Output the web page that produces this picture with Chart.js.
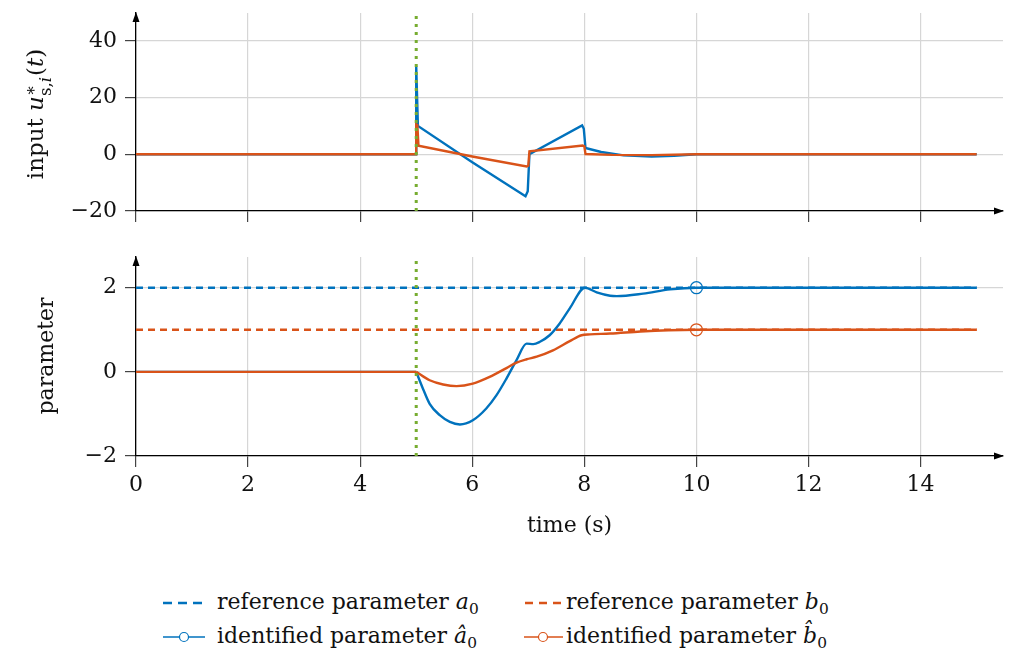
<!DOCTYPE html>
<html>
<head>
<meta charset="utf-8">
<script src="https://cdn.jsdelivr.net/npm/chart.js@4.4.1/dist/chart.umd.min.js"></script>
<style>
  body { margin: 0; background: #fff; width: 1011px; height: 658px; overflow: hidden; position: relative;
         font-family: 'DejaVu Serif', serif; color: #111; }
  canvas { position: absolute; left: 0; }
  #topChart { top: 0; }
  #botChart { top: 240px; }
  .ytitle { position: absolute; white-space: nowrap; font-size: 22px;
            transform: translate(-50%, -50%) rotate(-90deg); }
  .ss { display: inline-block; vertical-align: -0.5em; line-height: 0.95; font-size: 0.72em; text-align: left; margin-right: 1px; }
  .lg { position: absolute; font-size: 22px; white-space: nowrap; line-height: 26px; }
  .lg sub { font-size: 0.7em; }
  .sw { position: absolute; }
</style>
</head>
<body>
<canvas id="topChart" width="1011" height="232"></canvas>
<canvas id="botChart" width="1011" height="300"></canvas>

<div class="ytitle" style="left:38px;top:114px;font-size:23px">input <i>u</i><span class="ss">∗<br>s,<i>i</i></span>(<i>t</i>)</div>
<div class="ytitle" style="left:45px;top:356px">parameter</div>

<!-- legend -->
<svg class="sw" style="left:160px;top:592px" width="48" height="22"><line x1="3" y1="11" x2="42" y2="11" stroke="#0072BD" stroke-width="2.5" stroke-dasharray="9,6"/></svg>
<div class="lg" style="left:217px;top:589px">reference parameter <i>a</i><sub>0</sub></div>
<svg class="sw" style="left:520px;top:592px" width="48" height="22"><line x1="5" y1="11" x2="41" y2="11" stroke="#D95319" stroke-width="2.5" stroke-dasharray="8,6"/></svg>
<div class="lg" style="left:566px;top:589px">reference parameter <i>b</i><sub>0</sub></div>
<svg class="sw" style="left:160px;top:626px" width="48" height="22"><line x1="3" y1="11" x2="45" y2="11" stroke="#0072BD" stroke-width="1.4"/><circle cx="24" cy="11" r="4.5" fill="#fff" stroke="#0072BD" stroke-width="1.2"/></svg>
<div class="lg" style="left:217px;top:623px">identified parameter <i>â</i><sub>0</sub></div>
<svg class="sw" style="left:518px;top:626px" width="48" height="22"><line x1="6" y1="11" x2="45" y2="11" stroke="#D95319" stroke-width="1.4"/><circle cx="25" cy="11" r="4.5" fill="#fff" stroke="#D95319" stroke-width="1.2"/></svg>
<div class="lg" style="left:566px;top:623px">identified parameter <i>b̂</i><sub>0</sub></div>

<script>
// colours
const BLUE = '#0072BD', ORANGE = '#D95319', GREEN = '#77AC30';

// axis limits
const X_MAX = 15.47;
const TOP_Y_MIN = -20, TOP_Y_MAX = 49.8;
const BOT_Y_MIN = -2, BOT_Y_MAX = 2.73;
const EVENT_T = 5;   // dotted marker, identification starts
const MARK_T = 10;   // circle markers

// top plot: input, blue trace
const inA_t = [0, 5, 5, 5.03, 6, 6.95, 6.99, 7.02, 7.96, 7.99, 8.02, 8.3, 8.7, 9.2, 9.6, 10, 15];
const inA_v = [0, 0, 31, 10, -2.8, -14.8, -13, 0, 10.2, 9, 2.2, 0.8, -0.4, -0.8, -0.5, 0, 0];
// top plot: input, orange trace
const inB_t = [0, 5, 5, 5.02, 5.04, 6, 6.97, 7.0, 7.02, 7.97, 8.0, 8.02, 8.5, 9.2, 10, 15];
const inB_v = [0, 0, 10.5, 10.3, 3, -0.8, -4.3, -4, 1, 3.1, 2.8, 0.1, -0.2, -0.3, 0, 0];

// bottom plot: reference parameters
const ref_t = [0, 15];
const refA_v = [2, 2];
const refB_v = [1, 1];
// bottom plot: identified a0
const idA_t = [0, 5, 5.12, 5.24, 5.42, 5.6, 5.78, 6.01, 6.25, 6.43, 6.61, 6.79, 6.97, 7.09, 7.2, 7.38, 7.56, 7.74, 8.01,
               8.22, 8.46, 8.58, 9.05, 9.53, 10, 15];
const idA_v = [0, 0, -0.4, -0.76, -1.03, -1.19, -1.25, -1.15, -0.87, -0.56, -0.16, 0.28, 0.67, 0.66, 0.71, 0.87, 1.15, 1.51, 2.0,
               1.89, 1.81, 1.8, 1.86, 1.96, 2, 2];
// bottom plot: identified b0
const idB_t = [0, 5, 5.24, 5.48, 5.72, 6.01, 6.31, 6.61, 6.79, 6.97, 7.15, 7.44, 7.74, 7.95, 8.1, 8.46, 9.0, 9.5, 10, 15];
const idB_v = [0, 0, -0.2, -0.3, -0.34, -0.28, -0.12, 0.09, 0.22, 0.3, 0.36, 0.51, 0.73, 0.87, 0.89, 0.91, 0.96, 0.99, 1, 1];

const pts = (ts, vs) => ts.map((t, i) => ({ x: t, y: vs[i] }));
const before = (ts, vs) => pts(ts, vs).filter(p => p.x <= EVENT_T);
const after = (ts, vs) => pts(ts, vs).filter(p => p.x >= EVENT_T);

Chart.defaults.font.family = "'DejaVu Serif', serif";
Chart.defaults.color = '#111';

const axisArrows = {
  id: 'axisArrows',
  afterDraw(chart) {
    const { ctx, chartArea: a } = chart;
    ctx.save();
    ctx.fillStyle = '#000';
    ctx.beginPath();
    ctx.moveTo(a.left, a.top - 1);
    ctx.lineTo(a.left - 3.5, a.top + 9);
    ctx.lineTo(a.left + 3.5, a.top + 9);
    ctx.closePath();
    ctx.fill();
    ctx.beginPath();
    ctx.moveTo(a.right + 1, a.bottom);
    ctx.lineTo(a.right - 9, a.bottom - 3.5);
    ctx.lineTo(a.right - 9, a.bottom + 3.5);
    ctx.closePath();
    ctx.fill();
    ctx.restore();
  }
};

const gridOpts = { color: '#d6d6d6', lineWidth: 1.2, tickColor: '#444', tickLength: 11 };
const borderOpts = { color: '#000', width: 1.3 };
const minus = v => String(v).replace('-', '\u2212');

function xScale(showLabels, h) {
  return {
    type: 'linear', min: 0, max: X_MAX,
    ticks: { stepSize: 2, includeBounds: false, padding: 5, font: { size: 22 },
             callback: v => showLabels ? v : '' },
    grid: gridOpts,
    border: borderOpts,
    title: { display: showLabels, text: 'time (s)', font: { size: 22 }, padding: { top: 0, bottom: 1 } },
    afterFit: s => { s.height = h; s.paddingLeft = 0; s.paddingRight = 0; }
  };
}

function yScale(min, max, step) {
  return {
    type: 'linear', min: min, max: max,
    ticks: { stepSize: step, includeBounds: false, padding: 8, font: { size: 22 }, callback: minus },
    grid: gridOpts,
    border: borderOpts,
    afterFit: s => { s.width = 136; s.paddingTop = 0; s.paddingBottom = 0; }
  };
}

function line(data, color, extra) {
  return Object.assign({ data: data, borderColor: color, backgroundColor: color, borderWidth: 2.4,
                         pointRadius: 0, fill: false, tension: 0 }, extra || {});
}

const markerRadius = ctx => (ctx.raw && ctx.raw.x === MARK_T ? 6 : 0);
const identified = { cubicInterpolationMode: 'monotone', pointRadius: markerRadius,
                     pointBorderWidth: 1.2, pointBackgroundColor: 'rgba(255,255,255,0)' };

const common = {
  responsive: false, animation: false,
  plugins: { legend: { display: false }, tooltip: { enabled: false } }
};

new Chart(document.getElementById('topChart'), {
  type: 'line',
  data: {
    datasets: [
      line(pts([EVENT_T, EVENT_T], [TOP_Y_MIN, TOP_Y_MAX]), GREEN, { borderWidth: 3, borderDash: [3, 5] }),
      line(pts(inB_t, inB_v), ORANGE),
      line(pts(inA_t, inA_v), BLUE)
    ]
  },
  options: Object.assign({}, common, {
    layout: { padding: { top: 13, right: 8, left: 0, bottom: 0 } },
    scales: { x: xScale(false, 21), y: yScale(TOP_Y_MIN, TOP_Y_MAX, 20) }
  }),
  plugins: [axisArrows]
});

new Chart(document.getElementById('botChart'), {
  type: 'line',
  data: {
    datasets: [
      line(pts([EVENT_T, EVENT_T], [BOT_Y_MIN, BOT_Y_MAX]), GREEN, { borderWidth: 3, borderDash: [3, 5] }),
      line(after(idB_t, idB_v), ORANGE, identified),
      line(before(idB_t, idB_v), ORANGE),
      line(after(idA_t, idA_v), BLUE, identified),
      line(before(idA_t, idA_v), BLUE),
      line(pts(ref_t, refB_v), ORANGE, { borderDash: [7, 5], borderWidth: 2.5 }),
      line(pts(ref_t, refA_v), BLUE, { borderDash: [7, 5], borderWidth: 2.5 })
    ]
  },
  options: Object.assign({}, common, {
    layout: { padding: { top: 17, right: 8, left: 0, bottom: 0 } },
    scales: { x: xScale(true, 84), y: yScale(BOT_Y_MIN, BOT_Y_MAX, 2) }
  }),
  plugins: [axisArrows]
});
</script>
</body>
</html>
